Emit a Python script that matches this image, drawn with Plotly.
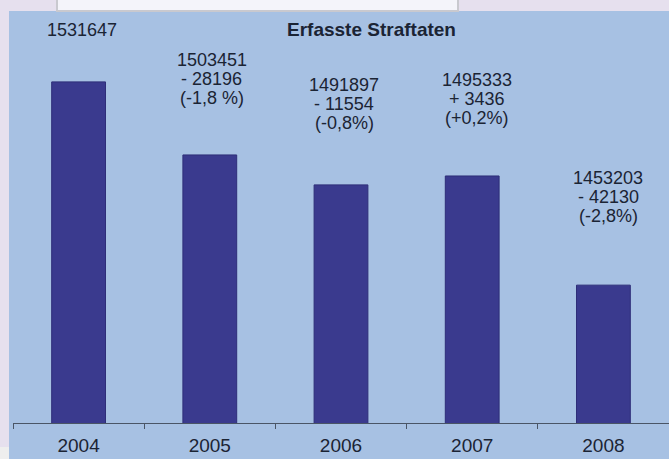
import plotly.graph_objects as go

# ---- data ----
years = ["2004", "2005", "2006", "2007", "2008"]
cases = [1531647, 1503451, 1491897, 1495333, 1453203]
change_abs = ["", "- 28196", "- 11554", "+ 3436", "- 42130"]
change_pct = ["", "(-1,8 %)", "(-0,8%)", "(+0,2%)", "(-2,8%)"]
title_text = "Erfasste Straftaten"

# ---- style ----
W, H = 669, 459
ML, MR, MT, MB = 13, 0, 11, 36
PW, PH = W - ML - MR, H - MT - MB
BAR = "#3a3a8e"
PANEL = "#a7c1e3"
LAV = "#e6e0ee"
TXT = "#1b2434"
FONT = "Liberation Sans, Arial, sans-serif"
label_gap = [52, 57, 62, 58, 69]
label_dx = [3, 2, 3, 5, 5]
line_h = 19


def px_x(px):
    return (px - ML) / PW


def px_y(py):
    return (H - MB - py) / PH


fig = go.Figure(go.Bar(
    x=years, y=cases, width=0.41,
    marker=dict(color=BAR, line=dict(color="#2e2e78", width=1)),
    hoverinfo="skip",
))

shapes = [
    dict(type="rect", xref="paper", yref="paper", layer="below",
         x0=px_x(9), x1=px_x(670), y0=px_y(460), y1=px_y(11),
         fillcolor=PANEL, line=dict(width=0)),
    dict(type="rect", xref="paper", yref="paper", layer="below",
         x0=px_x(57), x1=px_x(458), y0=px_y(11), y1=px_y(-2),
         fillcolor="#f4f4fa", line=dict(color="#c9c9cf", width=2)),
    dict(type="rect", xref="paper", yref="paper", layer="below",
         x0=px_x(-1), x1=px_x(9), y0=px_y(460), y1=px_y(447),
         fillcolor="#eeeeee", line=dict(width=0)),
]

annotations = [dict(
    text=title_text, xref="paper", yref="paper",
    x=px_x(371), y=px_y(30), xanchor="center", yanchor="middle",
    showarrow=False, font=dict(family=FONT, size=19, color=TXT, weight="bold"),
)]

for i, yr in enumerate(years):
    lines = [str(cases[i])] + [t for t in (change_abs[i], change_pct[i]) if t]
    n = len(lines)
    for j, t in enumerate(lines):
        annotations.append(dict(
            text=t, x=i, y=cases[i], xref="x", yref="y",
            xanchor="center", yanchor="middle", showarrow=False,
            xshift=label_dx[i], yshift=label_gap[i] + (n - 1 - j) * line_h,
            font=dict(family=FONT, size=18, color=TXT),
        ))

fig.update_layout(
    width=W, height=H,
    margin=dict(l=ML, r=MR, t=MT, b=MB, pad=0),
    paper_bgcolor=LAV, plot_bgcolor="rgba(0,0,0,0)",
    showlegend=False, shapes=shapes, annotations=annotations,
)
fig.update_xaxes(
    type="category", range=[-0.5, 4.5], tickson="boundaries",
    ticks="outside", ticklen=5, tickcolor="#4a5566", tickwidth=1,
    showline=True, linecolor="#4a5566", linewidth=1,
    showgrid=False, zeroline=False, ticklabelstandoff=5,
    tickfont=dict(family=FONT, size=19, color=TXT),
)
fig.update_yaxes(
    range=[1400000, 1559000], visible=False, showgrid=False, zeroline=False,
)

fig.write_html("out.html", config={"displayModeBar": False},
               post_script="document.body.style.margin='0';")
